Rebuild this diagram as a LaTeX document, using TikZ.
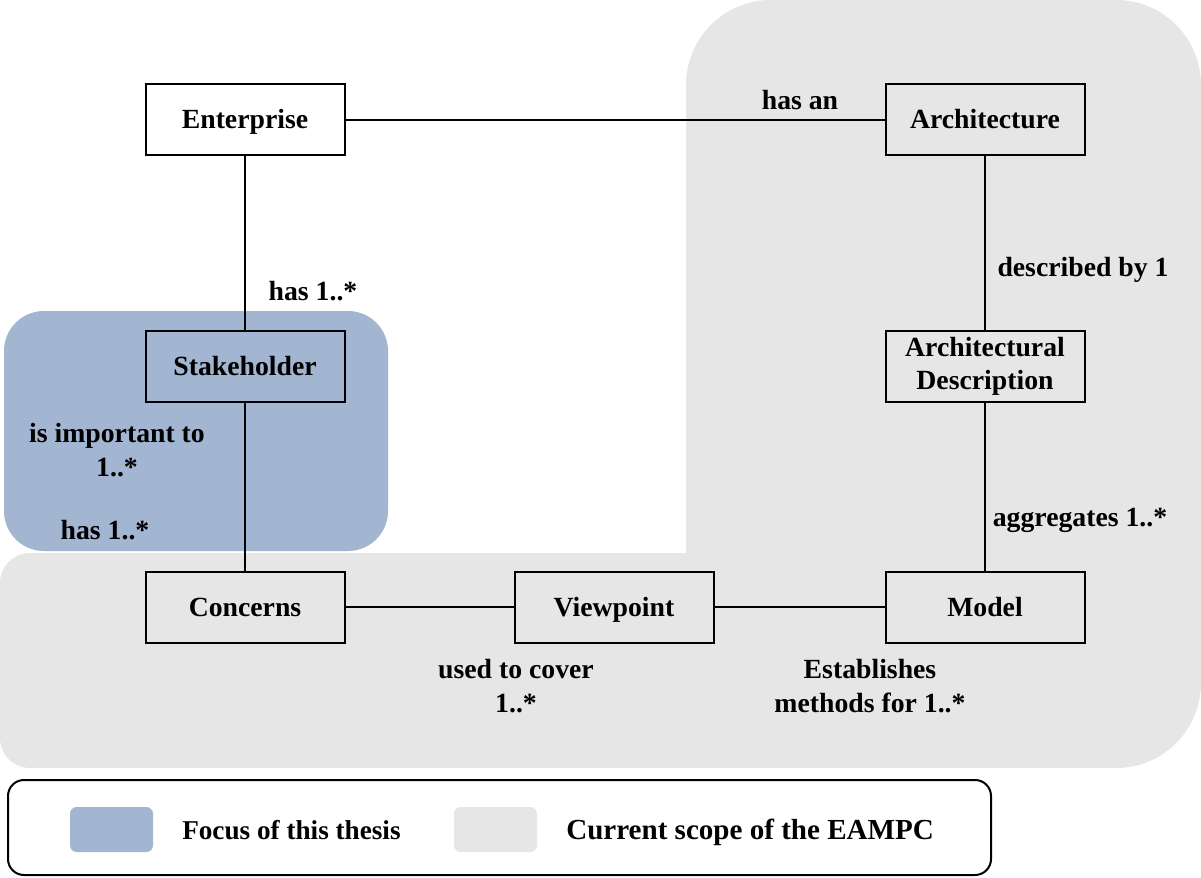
\documentclass[tikz,border=0pt]{standalone}
\usepackage{fontspec}
\setmainfont{Liberation Serif}
\definecolor{focusblue}{RGB}{162,181,209}
\definecolor{scopegray}{RGB}{230,230,230}
\begin{document}
\begin{tikzpicture}[x=0.75pt,y=-0.75pt,
  every node/.style={font=\fontsize{20.8pt}{25pt}\selectfont\bfseries},
  entity/.style={draw=black,line width=1.5pt,minimum width=149.25pt,minimum height=53.25pt,
    align=center,inner sep=0pt},
  oneline/.style={text height=13.5pt,text depth=0pt},
  link/.style={line width=1.5pt},
  lbl/.style={align=center,inner sep=0pt},
  legendtext/.style={anchor=base west,inner sep=0pt}]
\useasboundingbox (0,0) rectangle (1201,877);

% scope of the EAMPC (L-shaped background)
\fill[scopegray] (686,553) -- (686,85)
  arc[start angle=180,end angle=90,radius=63.75pt] -- (1116,0)
  arc[start angle=90,end angle=0,radius=63.75pt] -- (1201,683)
  arc[start angle=0,end angle=-90,radius=63.75pt] -- (30,768)
  arc[start angle=270,end angle=180,radius=22.5pt] -- (0,583)
  arc[start angle=180,end angle=90,radius=22.5pt] -- cycle;

% focus of the thesis
\fill[focusblue,rounded corners=30pt] (4,311) rectangle (388,551);

% entities
\node[entity,oneline] (ent) at (245,120) {Enterprise};
\node[entity,oneline] (arch) at (985,120) {Architecture};
\node[entity,oneline] (stake) at (245,366) {Stakeholder};
\node[entity] (ad) at (985,366) {Architectural\\Description};
\node[entity,oneline] (conc) at (245,607) {Concerns};
\node[entity,oneline] (vp) at (614,607) {Viewpoint};
\node[entity,oneline] (model) at (985,607) {Model};

% relations
\draw[link] (ent) -- (arch);
\draw[link] (ent) -- (stake);
\draw[link] (stake) -- (conc);
\draw[link] (conc) -- (vp);
\draw[link] (vp) -- (model);
\draw[link] (arch) -- (ad);
\draw[link] (ad) -- (model);

% relation labels
\node[lbl,oneline] (l1) at (800,101) {has an};
\node[lbl,oneline] (l2) at (1083,267) {described by 1};
\node[lbl,oneline] (l3) at (313,291) {has 1..*};
\node[lbl] (l4) at (117,450) {is important to\\1..*};
\node[lbl,oneline] (l5) at (105,530) {has 1..*};
\node[lbl,oneline] (l6) at (1080,517) {aggregates 1..*};
\node[lbl] (l7) at (516,686) {used to cover\\[1pt]1..*};
\node[lbl] (l8) at (870,686) {Establishes\\[1pt]methods for 1..*};

% legend
\draw[line width=1.5pt,rounded corners=12pt] (8,780) rectangle (991,875);
\fill[focusblue,rounded corners=5pt] (70,807) rectangle (153,852);
\fill[scopegray,rounded corners=5pt] (454,807) rectangle (537,852);
\node[legendtext,font=\fontsize{20.4pt}{25pt}\selectfont\bfseries] (lg1) at (182,839) {Focus of this thesis};
\node[legendtext,font=\fontsize{21.8pt}{25pt}\selectfont\bfseries] (lg2) at (566,839) {Current scope of the EAMPC};
\end{tikzpicture}
\end{document}
